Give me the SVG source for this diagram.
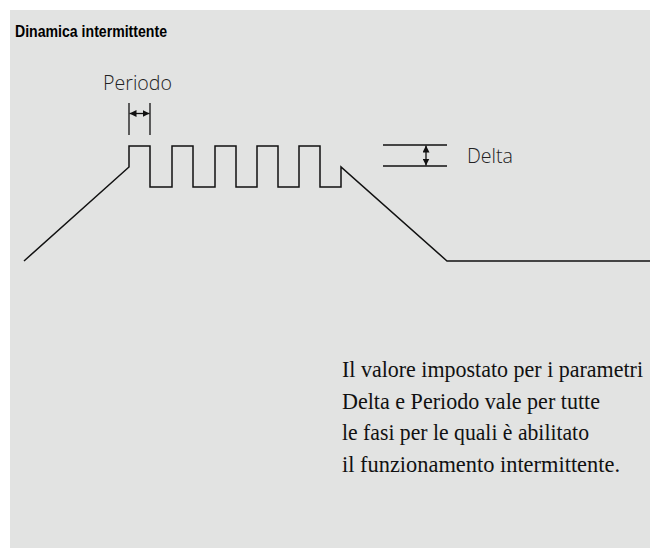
<svg xmlns="http://www.w3.org/2000/svg" width="650" height="548" viewBox="0 0 650 548">
<defs>
<style>
.ln{fill:none;stroke:#111;stroke-width:1.5;stroke-linejoin:miter}
.dim{fill:none;stroke:#111;stroke-width:1.3}
.lbl{font-family:"Open Sans","Liberation Sans",sans-serif;font-weight:300;font-size:21px;fill:#222}
.title{font-family:"Liberation Sans",sans-serif;font-weight:bold;font-size:16px;fill:#000}
.body{font-family:"Liberation Serif",serif;font-size:22.5px;fill:#111}
</style>
<marker id="ah" viewBox="0 0 10 10" refX="10" refY="5" markerWidth="7" markerHeight="7" orient="auto-start-reverse" markerUnits="userSpaceOnUse">
<path d="M0,0 L10,5 L0,10 z" fill="#111"/>
</marker>
</defs>
<rect x="10" y="10" width="640" height="538" fill="#e2e3e2"/>
<text class="title" x="15" y="37" textLength="152" lengthAdjust="spacingAndGlyphs">Dinamica intermittente</text>
<g id="signal">
<polyline class="ln" points="24,261 129,167 129,146 150,146 150,187 172,187 172,146 193,146 193,187 215,187 215,146 236,146 236,187 257,187 257,146 278,146 278,187 299,187 299,146 320,146 320,187 341,187 341,167 447,261 650,261"/>
</g>
<g id="periodo">
<text class="lbl" x="103" y="90" textLength="69" lengthAdjust="spacingAndGlyphs">Periodo</text>
<line class="dim" x1="129" y1="103" x2="129" y2="135"/>
<line class="dim" x1="150" y1="103" x2="150" y2="135"/>
<line class="dim" x1="129.5" y1="113.5" x2="149.5" y2="113.5" marker-start="url(#ah)" marker-end="url(#ah)"/>
</g>
<g id="delta">
<line class="dim" x1="383" y1="145" x2="447" y2="145"/>
<line class="dim" x1="383" y1="166" x2="447" y2="166"/>
<line class="dim" x1="426" y1="145.5" x2="426" y2="165.5" marker-start="url(#ah)" marker-end="url(#ah)"/>
<text class="lbl" x="467" y="163" textLength="46" lengthAdjust="spacingAndGlyphs">Delta</text>
</g>
<g id="note">
<text class="body" x="342" y="377" textLength="301" lengthAdjust="spacingAndGlyphs">Il valore impostato per i parametri</text>
<text class="body" x="342" y="409" textLength="258" lengthAdjust="spacingAndGlyphs">Delta e Periodo vale per tutte</text>
<text class="body" x="342" y="440" textLength="247" lengthAdjust="spacingAndGlyphs">le fasi per le quali è abilitato</text>
<text class="body" x="342" y="472" textLength="278" lengthAdjust="spacingAndGlyphs">il funzionamento intermittente.</text>
</g>
</svg>
